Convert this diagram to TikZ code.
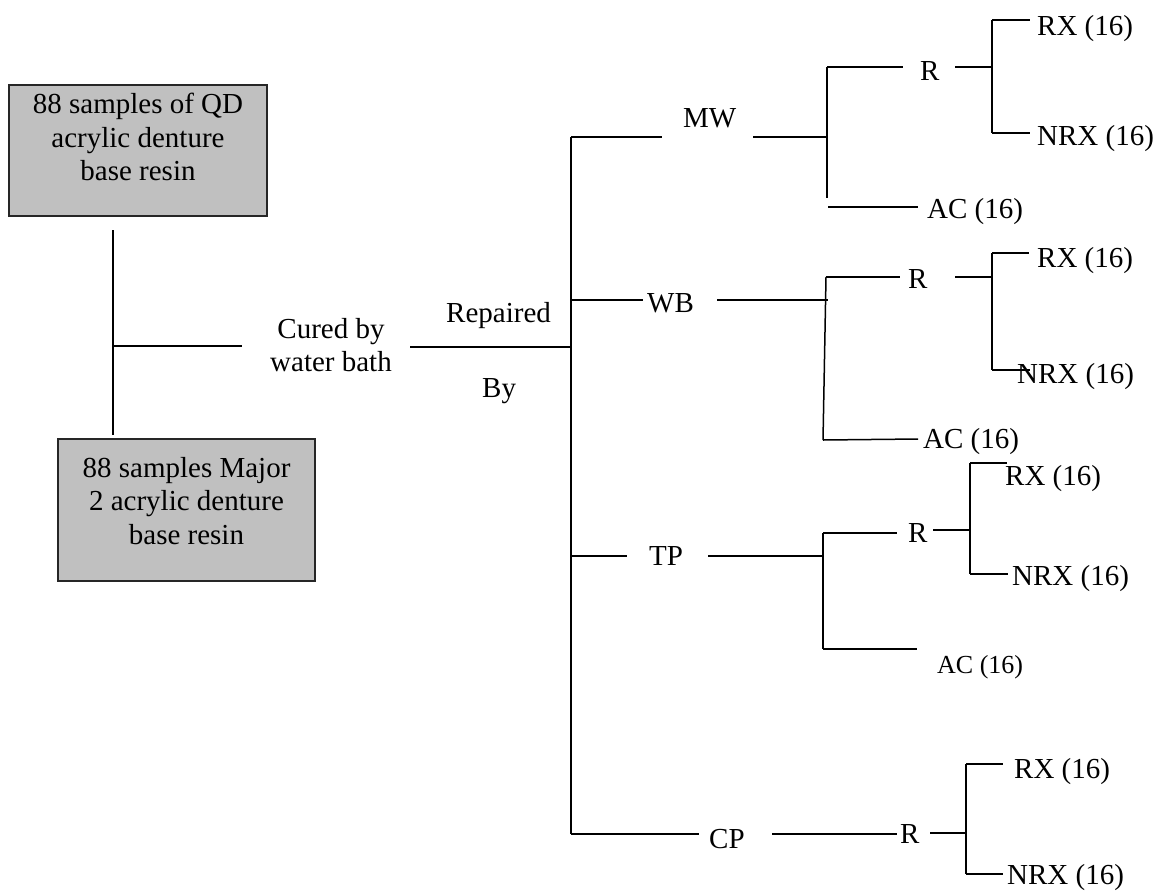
\documentclass[tikz,border=0pt]{standalone}
\usepackage{fontspec}
\setmainfont{Liberation Serif}
\begin{document}
\begin{tikzpicture}[x=1pt,y=-1pt,
  conn/.style={line width=1.5pt, black},
  lbl/.style={anchor=base west, inner sep=0pt, font=\fontsize{29}{33.5}\selectfont},
  smalllbl/.style={anchor=base west, inner sep=0pt, font=\fontsize{26}{30}\selectfont},
  blocktxt/.style={anchor=north, align=center, inner sep=0pt, font=\fontsize{29}{33.5}\selectfont},
  samplebox/.style={draw=black!85, fill={rgb,255:red,192;green,192;blue,192}, line width=1.5pt, inner sep=0pt}]
\useasboundingbox (0,0) rectangle (1158,892);

% sample boxes
\node[samplebox, minimum width=258pt, minimum height=131pt] (qd) at (138,150.5) {};
\node[blocktxt] (qdtext) at (138,93) {88 samples of QD\\acrylic denture\\base resin};
\node[samplebox, minimum width=257pt, minimum height=142pt] (mj) at (186.5,510) {};
\node[blocktxt] (mjtext) at (186.5,457) {88 samples Major\\2 acrylic denture\\base resin};

% left connectors
\coordinate (lt) at (113,230); \coordinate (lb) at (113,435);
\coordinate (lm) at (113,346); \coordinate (lr) at (242,346);
\draw[conn] (lt) -- (lb);
\draw[conn] (lm) -- (lr);
\node[blocktxt] (cured) at (331,318) {Cured by\\water bath};
\coordinate (cr) at (410,347); \coordinate (trunk) at (571,347);
\draw[conn] (cr) -- (trunk);
\node[lbl] (rep) at (446,322) {Repaired};
\node[lbl] (by) at (482,397) {By};

% main vertical
\coordinate (mtop) at (571,137); \coordinate (mbot) at (571,834);
\draw[conn] (mtop) -- (mbot);

% ---------- MW ----------
\node[lbl] (mw) at (683,127) {MW};
\coordinate (mw1) at (662,137); \coordinate (mw2) at (753,137); \coordinate (mwj) at (827,137);
\draw[conn] (mtop) -- (mw1);
\draw[conn] (mw2) -- (mwj);
\coordinate (mwvt) at (827,67); \coordinate (mwvb) at (827,198);
\draw[conn] (mwvt) -- (mwvb);
\coordinate (mwr1) at (903,67); \coordinate (mwr2) at (955,67); \coordinate (mwrj) at (992,67);
\draw[conn] (mwvt) -- (mwr1);
\node[lbl] (mwR) at (920,80) {R};
\draw[conn] (mwr2) -- (mwrj);
\coordinate (mwrt) at (992,20); \coordinate (mwrb) at (992,133);
\draw[conn] (mwrt) -- (mwrb);
\coordinate (mwrx) at (1030,20); \coordinate (mwnrx) at (1030,133);
\draw[conn] (mwrt) -- (mwrx);
\draw[conn] (mwrb) -- (mwnrx);
\node[lbl] (mwRX) at (1037,35) {RX (16)};
\node[lbl] (mwNRX) at (1037,145) {NRX (16)};
\coordinate (mwac0) at (828,207); \coordinate (mwac1) at (918,207);
\draw[conn] (mwac0) -- (mwac1);
\node[lbl] (mwAC) at (927,218) {AC (16)};

% ---------- WB ----------
\coordinate (wb0) at (571,300); \coordinate (wb1) at (643,300);
\coordinate (wb2) at (717,300); \coordinate (wbj) at (828,300);
\draw[conn] (wb0) -- (wb1);
\node[lbl] (wb) at (647,312) {WB};
\draw[conn] (wb2) -- (wbj);
\coordinate (wbvt) at (826,277); \coordinate (wbvb) at (823,440);
\draw[conn] (wbvt) -- (wbvb);
\coordinate (wbr1) at (900,277); \coordinate (wbr2) at (955,277); \coordinate (wbrj) at (992,277);
\draw[conn] (wbvt) -- (wbr1);
\node[lbl] (wbR) at (908,288) {R};
\draw[conn] (wbr2) -- (wbrj);
\coordinate (wbrt) at (992,253); \coordinate (wbrb) at (992,370);
\draw[conn] (wbrt) -- (wbrb);
\coordinate (wbrx) at (1029,253); \coordinate (wbnrx) at (1030,370);
\draw[conn] (wbrt) -- (wbrx);
\draw[conn] (wbrb) -- (wbnrx);
\node[lbl] (wbRX) at (1037,267) {RX (16)};
\node[lbl] (wbNRX) at (1017,383) {NRX (16)};
\coordinate (wbac1) at (918,439);
\draw[conn] (wbvb) -- (wbac1);
\node[lbl] (wbAC) at (923,448) {AC (16)};

% ---------- TP ----------
\coordinate (tp0) at (571,556); \coordinate (tp1) at (627,556);
\coordinate (tp2) at (708,556); \coordinate (tpj) at (823,556);
\draw[conn] (tp0) -- (tp1);
\node[lbl] (tp) at (649,565) {TP};
\draw[conn] (tp2) -- (tpj);
\coordinate (tpvt) at (823,533); \coordinate (tpvb) at (823,649);
\draw[conn] (tpvt) -- (tpvb);
\coordinate (tpr1) at (897,533); \coordinate (tpr2) at (933,530); \coordinate (tprj) at (970,530);
\draw[conn] (tpvt) -- (tpr1);
\node[lbl] (tpR) at (908,542) {R};
\draw[conn] (tpr2) -- (tprj);
\coordinate (tprt) at (970,463); \coordinate (tprb) at (970,574);
\draw[conn] (tprt) -- (tprb);
\coordinate (tprx) at (1007,463); \coordinate (tpnrx) at (1008,574);
\draw[conn] (tprt) -- (tprx);
\draw[conn] (tprb) -- (tpnrx);
\node[lbl] (tpRX) at (1005,485) {RX (16)};
\node[lbl] (tpNRX) at (1012,585) {NRX (16)};
\coordinate (tpac1) at (917,649);
\draw[conn] (tpvb) -- (tpac1);
\node[smalllbl] (tpAC) at (937,673) {AC (16)};

% ---------- CP ----------
\coordinate (cp1) at (699,834); \coordinate (cp2) at (772,834); \coordinate (cp3) at (897,834);
\draw[conn] (mbot) -- (cp1);
\node[lbl] (cp) at (709,848) {CP};
\draw[conn] (cp2) -- (cp3);
\node[lbl] (cpR) at (900,843) {R};
\coordinate (cpr2) at (930,833); \coordinate (cprj) at (966,833);
\draw[conn] (cpr2) -- (cprj);
\coordinate (cprt) at (966,764); \coordinate (cprb) at (966,874);
\draw[conn] (cprt) -- (cprb);
\coordinate (cprx) at (1003,764); \coordinate (cpnrx) at (1003,874);
\draw[conn] (cprt) -- (cprx);
\draw[conn] (cprb) -- (cpnrx);
\node[lbl] (cpRX) at (1014,778) {RX (16)};
\node[lbl] (cpNRX) at (1007,884) {NRX (16)};
\end{tikzpicture}
\end{document}
